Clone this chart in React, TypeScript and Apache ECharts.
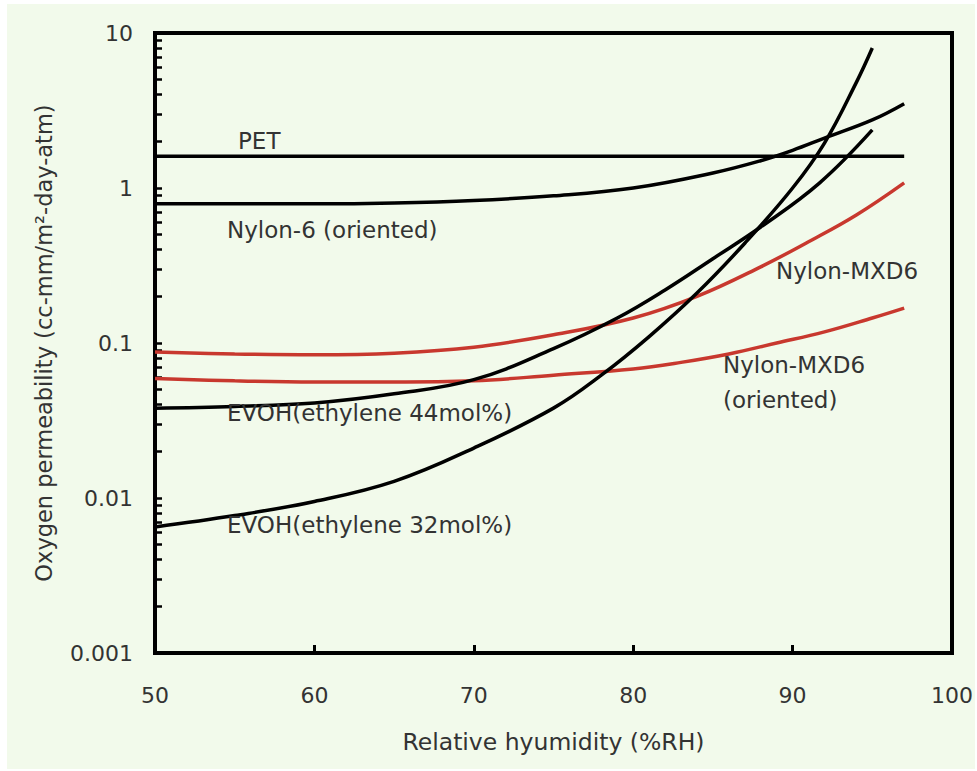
import React, { useEffect, useRef } from "react";
import * as echarts from "echarts";

// ---- data ----
const xTicks = [50, 60, 70, 80, 90, 100];
const yTickLabels = [0.001, 0.01, 0.1, 1, 10];
const yMinorTicks = [
  0.002, 0.003, 0.004, 0.005, 0.006, 0.007, 0.008, 0.009, 0.01,
  0.02, 0.03, 0.04, 0.05, 0.06, 0.07, 0.08, 0.09, 0.1,
  0.2, 0.3, 0.4, 0.5, 0.6, 0.7, 0.8, 0.9, 1,
  2, 3, 4, 5, 6, 7, 8, 9,
];

const petX = [50, 97];
const petY = [1.6, 1.6];

const nylon6X = [50, 55, 60, 65, 70, 75, 80, 85, 88, 90, 92, 95, 97];
const nylon6Y = [0.79, 0.79, 0.79, 0.8, 0.83, 0.89, 1.0, 1.25, 1.5, 1.75, 2.1, 2.75, 3.5];

const mxd6X = [50, 55, 60, 65, 70, 75, 80, 84, 88, 91, 94, 97];
const mxd6Y = [0.0875, 0.085, 0.084, 0.086, 0.094, 0.113, 0.145, 0.2, 0.31, 0.45, 0.67, 1.08];

const mxd6oX = [50, 55, 60, 65, 70, 75, 80, 83, 86, 89, 92, 95, 97];
const mxd6oY = [0.059, 0.057, 0.056, 0.056, 0.057, 0.062, 0.068, 0.075, 0.085, 0.1, 0.118, 0.145, 0.168];

const evoh44X = [50, 55, 60, 65, 70, 75, 79, 82, 85, 88, 91.7, 95];
const evoh44Y = [0.038, 0.039, 0.041, 0.047, 0.058, 0.092, 0.145, 0.22, 0.35, 0.56, 1.08, 2.37];

const evoh32X = [50, 55, 60, 65, 70, 75, 78, 81, 84, 87, 90, 92, 94, 95];
const evoh32Y = [0.0065, 0.0077, 0.0095, 0.0128, 0.021, 0.038, 0.062, 0.11, 0.21, 0.44, 1.0, 1.95, 4.8, 8.0];

const zip = (xs: number[], ys: number[]) => xs.map((x, i) => [x, ys[i]]);

const BLACK = "#000000";
const RED = "#c8382e";
const FONT = "DejaVu Sans";
const TEXT = "#333333";

export default function App() {
  const ref = useRef<HTMLDivElement>(null);

  useEffect(() => {
    document.body.style.margin = "0";
    const chart = echarts.init(ref.current!, undefined, { renderer: "svg" });

    const lineSeries = (name: string, data: number[][], color: string) => ({
      name,
      type: "line",
      data,
      smooth: 0.4,
      showSymbol: false,
      symbol: "none",
      lineStyle: { color, width: 3.5 },
      z: 3,
    });

    const label = (text: string, x: number, y: number) => ({
      type: "text",
      left: x,
      top: y - 14,
      style: {
        text,
        font: `23px '${FONT}'`,
        fill: TEXT,
      },
      z: 10,
    });

    chart.setOption({
      animation: false,
      backgroundColor: "transparent",
      grid: {
        left: 155,
        top: 33,
        width: 797,
        height: 620,
        show: true,
        borderColor: BLACK,
        borderWidth: 4,
        backgroundColor: "transparent",
      },
      xAxis: {
        type: "value",
        min: 50,
        max: 100,
        interval: 10,
        name: "Relative hyumidity (%RH)",
        nameLocation: "middle",
        nameGap: 77,
        nameTextStyle: { fontFamily: FONT, fontSize: 23.5, color: TEXT },
        axisLine: { show: true, lineStyle: { color: BLACK, width: 4 } },
        axisTick: { show: true, inside: true, length: 8, lineStyle: { color: BLACK, width: 3 } },
        axisLabel: {
          margin: 31,
          fontFamily: FONT,
          fontSize: 22,
          color: TEXT,
          customValues: xTicks,
        },
        splitLine: { show: false },
      },
      yAxis: {
        type: "log",
        logBase: 10,
        min: 0.001,
        max: 10,
        name: "Oxygen permeability (cc-mm/m²-day-atm)",
        nameLocation: "middle",
        nameGap: 100,
        nameTextStyle: { fontFamily: FONT, fontSize: 22.5, color: TEXT },
        axisLine: { show: true, lineStyle: { color: BLACK, width: 4 } },
        axisTick: {
          show: true,
          inside: true,
          length: 7,
          lineStyle: { color: BLACK, width: 2.5 },
          customValues: yMinorTicks,
        },
        minorTick: { show: false },
        axisLabel: {
          margin: 22,
          fontFamily: FONT,
          fontSize: 22,
          color: TEXT,
          customValues: yTickLabels,
          formatter: (v: number) => String(Number(v.toPrecision(3))),
        },
        splitLine: { show: false },
      },
      series: [
        lineSeries("PET", zip(petX, petY), BLACK),
        lineSeries("Nylon-6 (oriented)", zip(nylon6X, nylon6Y), BLACK),
        lineSeries("Nylon-MXD6", zip(mxd6X, mxd6Y), RED),
        lineSeries("Nylon-MXD6 (oriented)", zip(mxd6oX, mxd6oY), RED),
        lineSeries("EVOH 44", zip(evoh44X, evoh44Y), BLACK),
        lineSeries("EVOH 32", zip(evoh32X, evoh32Y), BLACK),
      ],
      graphic: [
        label("PET", 238, 143),
        label("Nylon-6 (oriented)", 227, 232),
        label("Nylon-MXD6", 776, 273),
        label("Nylon-MXD6", 723, 367),
        label("(oriented)", 723, 402),
        label("EVOH(ethylene 44mol%)", 227, 415),
        label("EVOH(ethylene 32mol%)", 227, 527),
      ],
    });

    return () => chart.dispose();
  }, []);

  return (
    <div style={{ position: "fixed", left: 0, top: 0, width: 977, height: 771, background: "#ffffff" }}>
      <div style={{ position: "absolute", left: 7, top: 4, width: 968, height: 765, background: "#f2faeb" }} />
      <div ref={ref} style={{ position: "absolute", left: 0, top: 0, width: 977, height: 771 }} />
    </div>
  );
}
